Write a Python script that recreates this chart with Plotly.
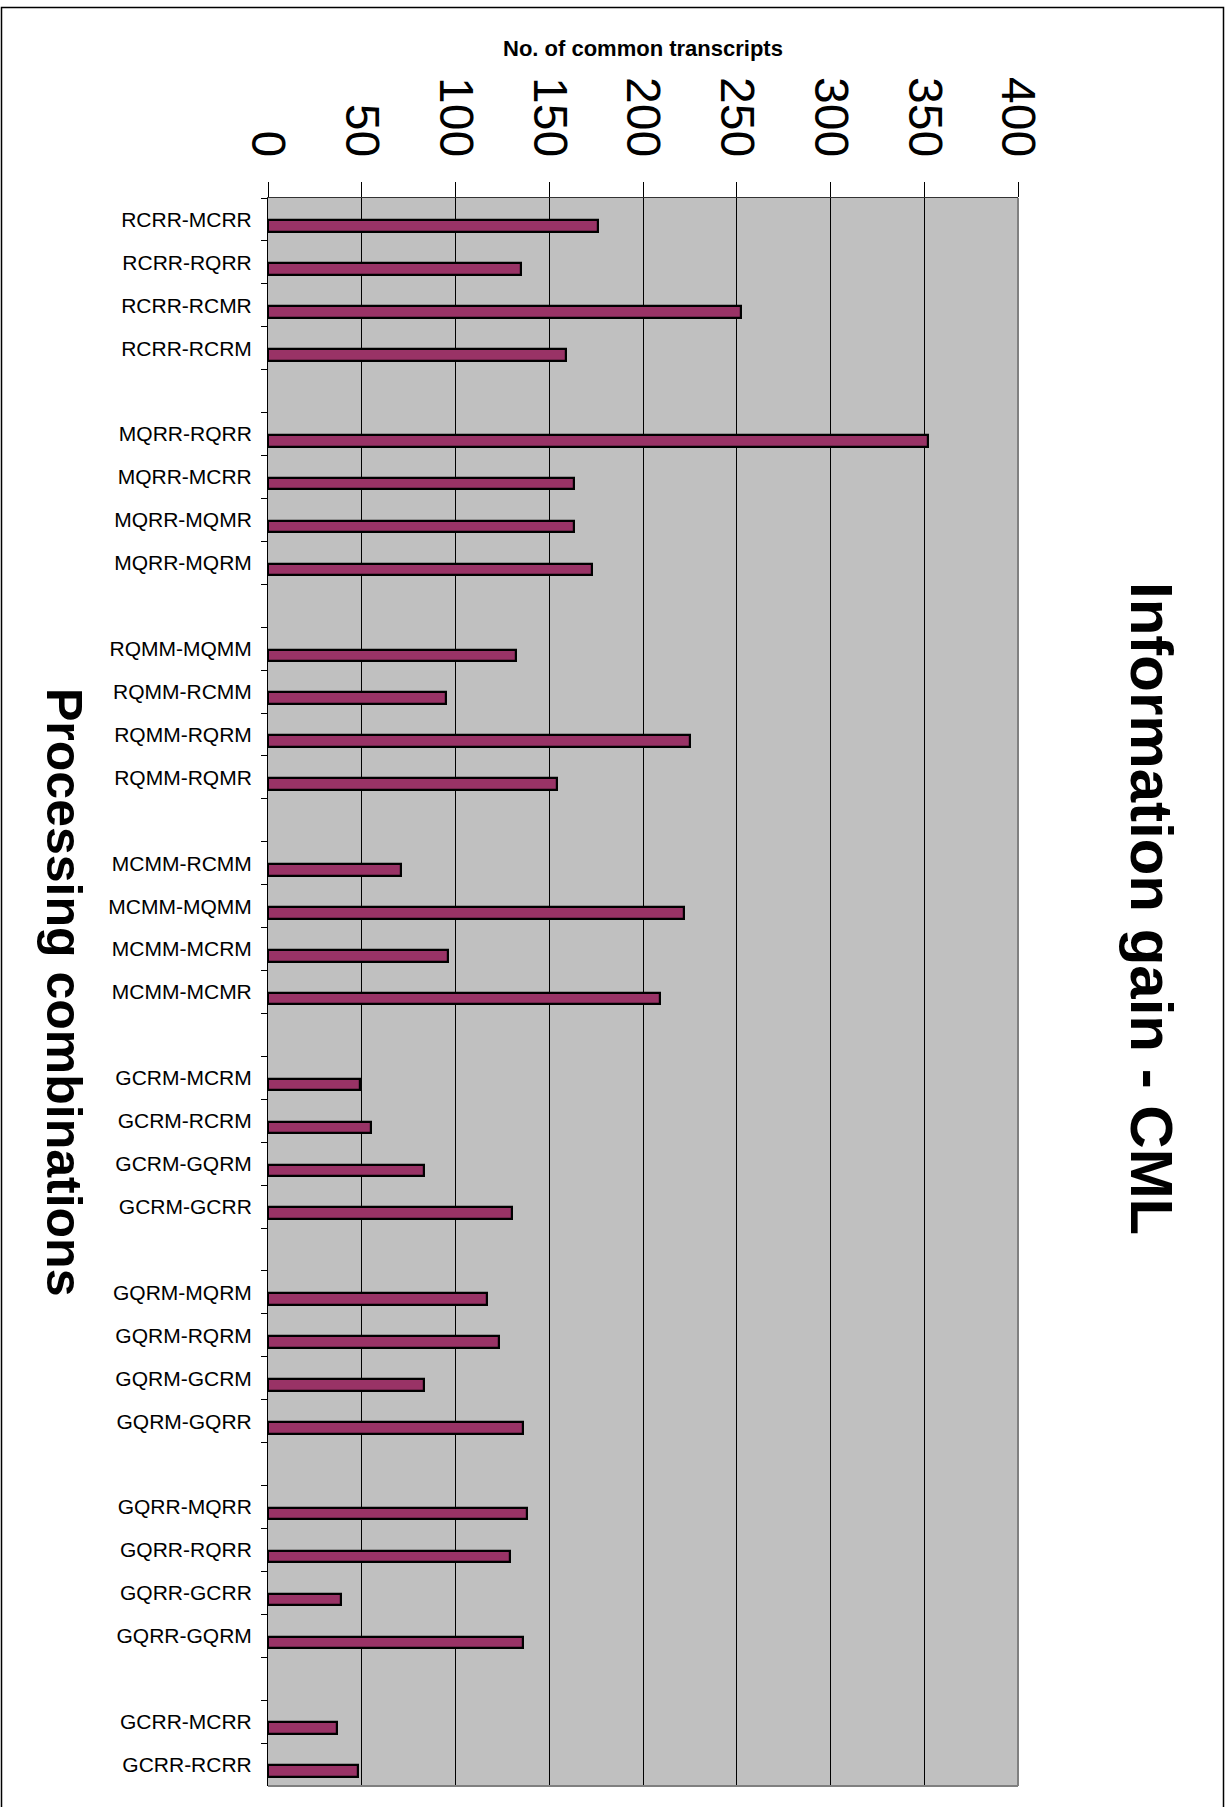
import plotly.graph_objects as go

# Processing combinations, grouped by reference sample
group_labels = [
    ["RCRR-MCRR", "RCRR-RQRR", "RCRR-RCMR", "RCRR-RCRM"],
    ["MQRR-RQRR", "MQRR-MCRR", "MQRR-MQMR", "MQRR-MQRM"],
    ["RQMM-MQMM", "RQMM-RCMM", "RQMM-RQRM", "RQMM-RQMR"],
    ["MCMM-RCMM", "MCMM-MQMM", "MCMM-MCRM", "MCMM-MCMR"],
    ["GCRM-MCRM", "GCRM-RCRM", "GCRM-GQRM", "GCRM-GCRR"],
    ["GQRM-MQRM", "GQRM-RQRM", "GQRM-GCRM", "GQRM-GQRR"],
    ["GQRR-MQRR", "GQRR-RQRR", "GQRR-GCRR", "GQRR-GQRM"],
    ["GCRR-MCRR", "GCRR-RCRR"],
]

# Number of common transcripts for each combination
group_values = [
    [176, 135, 252, 159],
    [352, 163, 163, 173],
    [132, 95, 225, 154],
    [71, 222, 96, 209],
    [49, 55, 83, 130],
    [117, 123, 83, 136],
    [138, 129, 39, 136],
    [37, 48],
]

x_ticks = [0, 50, 100, 150, 200, 250, 300, 350, 400]

# Flatten the groups, leaving an empty slot between consecutive groups
categories, values = [], []
for i, (labs, vals) in enumerate(zip(group_labels, group_values)):
    if i > 0:
        categories.append(" " * i)
        values.append(None)
    categories.extend(labs)
    values.extend(vals)

n_cat = len(categories)

FONT = "Liberation Sans, Arial, sans-serif"
W, H = 1225, 1807
ML, MR, MT, MB = 268, 207, 198, 21
PW, PH = W - ML - MR, H - MT - MB


def px_x(px):
    return (px - ML) / PW


def px_y(py):
    return (H - MB - py) / PH


fig = go.Figure(
    go.Bar(
        x=values,
        y=categories,
        orientation="h",
        width=0.27,
        offset=0.02,
        marker=dict(color="#993366", line=dict(color="#000000", width=2.2)),
        hoverinfo="x+y",
    )
)

fig.update_layout(
    width=W,
    height=H,
    margin=dict(l=ML, r=MR, t=MT, b=MB, pad=0),
    paper_bgcolor="#FFFFFF",
    plot_bgcolor="#C0C0C0",
    showlegend=False,
    font=dict(family=FONT, color="#000000"),
    bargap=0,
)

fig.update_xaxes(
    side="top",
    range=[0, 400],
    tickvals=x_ticks,
    ticktext=[str(v) for v in x_ticks],
    tickangle=90,
    tickfont=dict(family=FONT, size=48, color="#000000"),
    ticks="outside",
    ticklen=15,
    tickwidth=1,
    tickcolor="#000000",
    ticklabelstandoff=8,
    showgrid=True,
    gridcolor="#000000",
    gridwidth=1,
    showline=True,
    linecolor="#333333",
    linewidth=1,
    zeroline=False,
    fixedrange=True,
)

fig.update_yaxes(
    type="category",
    categoryorder="array",
    categoryarray=categories,
    range=[n_cat - 0.5, -0.5],
    tickson="boundaries",
    ticks="outside",
    ticklen=6,
    tickwidth=1,
    tickcolor="#000000",
    tickfont=dict(family=FONT, size=21, color="#000000"),
    ticklabelstandoff=11,
    showgrid=False,
    showline=True,
    linecolor="#000000",
    linewidth=1,
    zeroline=False,
    fixedrange=True,
)

# Grey plot-area border on the right and bottom edges
fig.add_shape(type="line", xref="paper", yref="paper", x0=1, x1=1, y0=0, y1=1,
              line=dict(color="#808080", width=2), layer="above")
fig.add_shape(type="line", xref="paper", yref="paper", x0=0, x1=1, y0=0, y1=0,
              line=dict(color="#808080", width=2), layer="above")

# Outer chart frame
fig.add_shape(type="rect", xref="paper", yref="paper",
              x0=px_x(1.5), x1=px_x(1223.5), y0=px_y(1830), y1=px_y(7.5),
              line=dict(color="#000000", width=1.5), fillcolor="rgba(0,0,0,0)",
              layer="above")

fig.add_annotation(
    text="No. of common transcripts",
    xref="paper", yref="paper", x=0.5, y=px_y(48),
    xanchor="center", yanchor="middle", showarrow=False,
    font=dict(family=FONT, size=22, color="#000000", weight="bold"),
)

fig.add_annotation(
    text="Processing combinations",
    xref="paper", yref="paper", x=px_x(64), y=0.5,
    xanchor="center", yanchor="middle", showarrow=False, textangle=90,
    font=dict(family=FONT, size=50, color="#000000", weight="bold"),
)

fig.add_annotation(
    text="Information gain - CML",
    xref="paper", yref="paper", x=px_x(1152), y=px_y(908),
    xanchor="center", yanchor="middle", showarrow=False, textangle=90,
    font=dict(family=FONT, size=60, color="#000000", weight="bold"),
)

fig.write_html("out.html")
